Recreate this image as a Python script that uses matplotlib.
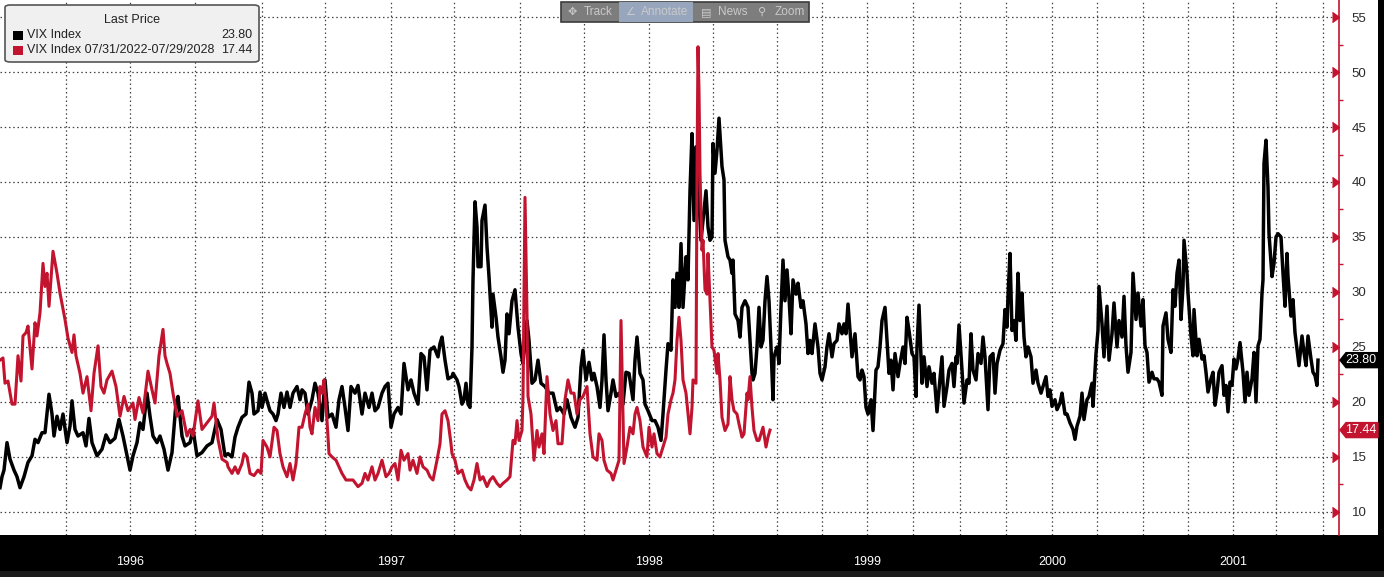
import matplotlib
matplotlib.use('Agg')
import matplotlib.pyplot as plt
import numpy as np
from matplotlib.patches import FancyBboxPatch, Rectangle, Polygon
from matplotlib.ticker import MultipleLocator

# Positions run along the chart's observation axis (uneven in calendar time,
# the overlap period carries both series' dates); values are VIX levels.
black_pos = [0, 2, 4, 7, 10, 14, 17, 20, 24, 28, 32, 35, 38, 42, 45, 49, 52, 54, 57, 60, 63, 67, 70, 72, 75, 78,
             83, 86, 89, 92, 97, 102, 106, 110, 115, 119, 123, 127, 130, 133, 137, 140, 143, 147, 150, 153, 157,
             160, 164, 168, 172, 176, 178, 182, 185, 190, 193, 197, 202, 207, 212, 217, 221, 225, 228, 232, 235,
             238, 242, 246, 249, 252, 254, 258, 260, 262, 265, 268, 270, 273, 276, 278, 281, 284, 287, 290, 293,
             297, 300, 302, 305, 308, 312, 315, 318, 322, 325, 328, 332, 336, 339, 342, 345, 348, 351, 355, 358,
             362, 365, 369, 372, 375, 378, 382, 385, 388, 391, 394, 398, 401, 404, 408, 411, 414, 418, 421, 424,
             427, 430, 434, 438, 440, 442, 445, 448, 452, 453, 457, 459, 462, 464, 466, 468, 470, 472, 473, 475,
             477, 478, 481, 482, 485, 487, 489, 492, 493, 496, 498, 501, 503, 505, 507, 509, 512, 515, 518, 521,
             523, 527, 529, 532, 535, 538, 541, 545, 549, 553, 557, 560, 564, 567, 571, 575, 578, 581, 583, 586,
             589, 592, 594, 597, 600, 602, 604, 606, 608, 611, 613, 616, 619, 623, 626, 629, 633, 635, 637, 640,
             643, 645, 648, 652, 655, 658, 661, 663, 666, 668, 671, 673, 675, 677, 679, 681, 683, 686, 688, 690,
             692, 694, 696, 698, 701, 703, 706, 708, 710, 712, 713, 715, 717, 719, 722, 724, 725, 728, 730, 732,
             733, 735, 738, 740, 742, 745, 748, 750, 752, 753, 755, 757, 759, 761, 763, 765, 767, 769, 771, 773,
             774, 777, 779, 781, 783, 785, 787, 789, 791, 793, 796, 798, 801, 803, 806, 808, 810, 812, 815, 818,
             820, 822, 825, 827, 829, 832, 834, 837, 839, 842, 844, 846, 848, 850, 852, 855, 858, 860, 862, 864,
             866, 868, 871, 873, 876, 878, 880, 882, 885, 887, 889, 891, 893, 895, 898, 900, 903, 905, 907, 909,
             912, 914, 916, 917, 919, 922, 924, 927, 929, 932, 934, 937, 939, 942, 944, 947, 949, 952, 954, 956,
             957, 959, 962, 964, 967, 969, 971, 973, 976, 978, 981, 983, 985, 988, 990, 993, 995, 997, 1000,
             1003, 1005, 1007, 1008, 1010, 1012, 1014, 1016, 1018, 1020, 1022, 1024, 1026, 1028, 1031, 1033,
             1036, 1038, 1041, 1043, 1046, 1048, 1050, 1052, 1055, 1057, 1060, 1062, 1065, 1067, 1070, 1073,
             1075, 1077, 1080, 1082, 1084, 1087, 1089, 1092, 1093, 1096, 1098, 1099, 1102, 1104, 1107, 1109,
             1112, 1114, 1117, 1119, 1122, 1124, 1126, 1128, 1131, 1133, 1136, 1138, 1141, 1143, 1145, 1147,
             1149, 1152, 1154, 1157, 1159, 1162, 1163, 1166, 1168, 1171, 1173, 1175, 1177, 1179, 1181, 1183,
             1184, 1187, 1188, 1191, 1193, 1194, 1197, 1199, 1202, 1204, 1206, 1208, 1211, 1213, 1215, 1217,
             1219, 1222, 1224, 1226, 1228, 1230, 1232, 1234, 1236, 1238, 1240, 1243, 1245, 1247, 1249, 1252,
             1254, 1256, 1258, 1260, 1262, 1263, 1264, 1266, 1268, 1269, 1272, 1274, 1276, 1278, 1281, 1283,
             1285, 1287, 1288, 1291, 1293, 1295, 1297, 1299, 1302, 1304, 1306, 1308, 1311, 1313, 1315, 1317, 1318]
black_vix = [12.2, 13.2, 13.8, 16.3, 14.8, 13.8, 13.2, 12.2, 13.2, 14.5, 15.1, 16.6, 16.3, 17.2, 17.2, 20.7, 18.9,
             16.9, 18.7, 17.5, 18.9, 16.3, 17.8, 20.1, 17.5, 16.9, 17.2, 16.0, 18.5, 16.3, 15.1, 15.7, 17.0, 16.3,
             16.7, 18.4, 16.9, 15.1, 13.8, 15.1, 16.3, 18.1, 17.5, 20.8, 18.7, 16.9, 16.3, 16.9, 15.7, 13.8, 15.4,
             19.9, 20.5, 16.9, 16.0, 16.3, 17.5, 15.1, 15.4, 16.0, 16.3, 18.4, 17.5, 15.1, 15.3, 15.0, 16.8, 17.7,
             18.6, 18.9, 21.8, 20.8, 18.9, 19.2, 20.9, 19.5, 20.8, 19.8, 19.2, 18.9, 18.3, 18.9, 20.8, 19.5, 20.9,
             19.5, 20.8, 21.4, 20.2, 21.1, 20.8, 18.9, 20.2, 21.7, 20.8, 18.3, 22.0, 18.6, 18.9, 17.7, 20.2, 21.4,
             19.5, 17.4, 21.4, 20.8, 21.5, 18.9, 20.8, 19.5, 20.8, 19.2, 19.5, 20.8, 21.4, 21.7, 17.7, 18.9, 19.5,
             18.9, 23.5, 21.1, 22.0, 20.8, 19.8, 24.4, 24.1, 21.1, 24.7, 25.0, 24.1, 25.3, 25.9, 23.8, 22.1, 22.3,
             22.6, 22.0, 21.4, 19.8, 20.2, 21.7, 19.8, 19.5, 25.0, 31.1, 38.2, 35.9, 32.3, 32.3, 36.5, 37.9, 34.1,
             31.4, 26.8, 29.8, 27.7, 25.9, 24.1, 22.7, 23.8, 28.0, 26.2, 29.2, 30.2, 26.8, 24.4, 23.5, 27.4, 25.6,
             21.7, 22.0, 23.8, 21.7, 21.4, 20.8, 20.8, 19.2, 19.5, 18.9, 20.2, 18.6, 17.7, 18.6, 23.2, 24.7, 22.0,
             23.6, 22.0, 22.6, 21.4, 19.5, 22.0, 26.1, 22.0, 19.2, 20.8, 22.0, 20.5, 20.8, 19.8, 22.7, 22.6, 20.2,
             23.8, 25.9, 22.6, 22.0, 19.8, 19.2, 18.3, 18.3, 17.7, 16.5, 18.9, 22.9, 25.3, 24.7, 31.1, 28.6, 31.7,
             28.6, 34.4, 28.6, 33.2, 31.1, 39.2, 44.4, 36.5, 43.2, 40.2, 34.7, 36.5, 39.2, 35.9, 34.7, 35.0, 43.5,
             40.8, 42.9, 45.8, 41.4, 40.2, 34.7, 33.2, 32.9, 31.7, 32.9, 28.0, 27.4, 25.9, 28.6, 29.2, 28.6, 25.6,
             22.6, 22.0, 22.6, 25.0, 28.6, 25.0, 25.6, 29.2, 31.4, 29.2, 25.0, 20.2, 24.1, 25.0, 23.5, 28.6, 32.9,
             29.2, 32.0, 29.5, 26.2, 31.1, 29.8, 30.8, 28.6, 29.2, 27.1, 24.4, 25.6, 24.4, 27.1, 25.0, 22.6, 22.0,
             23.2, 25.0, 26.2, 24.1, 25.3, 25.6, 27.1, 26.2, 27.1, 26.2, 28.9, 26.5, 24.1, 26.2, 22.3, 22.0, 22.9,
             22.3, 19.5, 18.9, 20.2, 17.4, 22.9, 23.2, 25.0, 27.4, 28.6, 25.6, 22.6, 23.8, 21.1, 24.4, 22.3, 23.5,
             25.0, 23.5, 27.7, 26.5, 24.4, 24.1, 20.5, 25.0, 28.8, 21.7, 24.1, 21.4, 23.2, 21.7, 22.6, 19.1, 21.1,
             24.1, 19.6, 21.4, 22.9, 23.5, 21.4, 24.1, 23.5, 27.0, 22.9, 19.9, 22.0, 21.7, 26.2, 22.9, 22.0, 24.4,
             23.5, 25.9, 24.1, 19.3, 24.1, 24.4, 20.8, 23.5, 24.7, 25.3, 28.4, 26.8, 29.6, 33.5, 26.5, 27.4, 25.6,
             31.7, 27.4, 29.9, 25.9, 24.1, 25.0, 24.1, 21.7, 22.9, 21.7, 20.8, 21.4, 22.3, 20.5, 21.1, 19.6, 20.2,
             19.3, 19.9, 20.8, 18.9, 18.9, 18.1, 17.5, 16.6, 17.8, 18.7, 20.8, 18.4, 20.2, 20.5, 21.7, 19.6, 24.4,
             26.5, 30.5, 27.1, 24.1, 28.7, 23.8, 26.2, 29.0, 25.0, 27.4, 25.9, 29.6, 25.1, 22.7, 24.5, 31.7, 27.5,
             29.9, 26.9, 29.3, 25.1, 24.5, 21.8, 22.7, 22.1, 22.1, 21.8, 20.6, 26.9, 28.1, 25.7, 24.5, 30.2, 28.7,
             31.7, 32.9, 27.5, 30.5, 34.7, 31.7, 29.9, 26.0, 24.2, 28.4, 24.2, 25.7, 23.9, 24.2, 22.7, 20.9, 22.1,
             22.7, 19.7, 20.9, 22.7, 23.3, 20.6, 21.5, 19.1, 21.8, 21.5, 23.9, 23.0, 23.9, 25.4, 22.7, 20.0, 22.7,
             20.6, 22.1, 24.5, 20.0, 25.1, 25.7, 29.9, 31.1, 41.7, 43.8, 39.5, 35.3, 31.4, 32.6, 35.0, 35.3, 35.0,
             31.7, 28.7, 33.5, 31.4, 27.8, 29.3, 26.3, 24.8, 23.3, 26.0, 24.5, 23.3, 26.0, 23.9, 22.7, 22.4, 21.5, 23.8]

red_pos = [0, 3, 5, 8, 12, 15, 18, 21, 23, 26, 28, 32, 35, 37, 40, 43, 45, 47, 49, 53, 57, 60, 65, 68, 72, 74, 76,
           80, 83, 87, 91, 94, 98, 101, 104, 107, 112, 116, 120, 124, 128, 133, 135, 139, 143, 148, 152, 155, 159,
           163, 165, 167, 170, 173, 177, 182, 187, 190, 193, 198, 202, 207, 212, 214, 218, 222, 227, 228, 232, 235,
           238, 242, 244, 247, 250, 254, 258, 261, 263, 267, 270, 274, 277, 280, 283, 287, 290, 293, 296, 299, 302,
           305, 308, 310, 312, 315, 318, 320, 322, 324, 327, 329, 332, 336, 339, 342, 346, 350, 353, 358, 362, 365,
           368, 372, 375, 378, 382, 386, 389, 392, 395, 398, 401, 404, 408, 410, 413, 417, 420, 423, 427, 430, 433,
           437, 440, 442, 445, 448, 451, 452, 455, 458, 462, 465, 468, 471, 474, 477, 480, 483, 487, 490, 493, 497,
           500, 503, 507, 510, 513, 515, 517, 519, 522, 523, 525, 527, 528, 531, 534, 537, 539, 542, 544, 547, 550,
           553, 556, 558, 562, 565, 568, 571, 574, 577, 580, 583, 587, 590, 593, 597, 599, 602, 604, 607, 611, 613,
           617, 619, 621, 623, 624, 627, 630, 633, 635, 637, 640, 643, 647, 649, 652, 654, 657, 660, 663, 666, 668,
           671, 673, 675, 677, 679, 681, 683, 686, 688, 690, 692, 693, 696, 697, 698, 699, 700, 702, 703, 705, 707,
           708, 710, 712, 714, 717, 718, 720, 722, 725, 728, 730, 732, 734, 737, 739, 742, 744, 747, 748, 750, 752,
           754, 757, 759, 761, 763, 766, 768, 770]
red_vix = [23.8, 24.0, 21.7, 21.9, 19.8, 19.8, 24.2, 21.9, 26.0, 26.3, 26.9, 23.0, 27.2, 26.0, 28.1, 32.6, 30.5,
           31.7, 28.7, 33.7, 31.7, 29.9, 27.5, 25.8, 24.5, 26.1, 24.2, 22.6, 20.8, 22.3, 19.2, 22.6, 25.1, 21.4,
           20.8, 22.0, 22.8, 21.4, 18.7, 20.5, 19.2, 19.9, 18.4, 20.4, 19.0, 22.8, 21.1, 19.9, 24.2, 26.6, 24.2,
           23.5, 22.6, 20.8, 18.7, 19.2, 16.9, 17.5, 16.9, 20.1, 17.5, 18.1, 18.7, 19.9, 16.6, 14.8, 14.5, 14.1,
           13.5, 14.1, 13.5, 14.4, 15.3, 15.0, 13.5, 13.3, 13.8, 13.5, 16.5, 15.9, 15.0, 17.7, 17.4, 15.3, 14.1,
           13.2, 14.4, 12.9, 14.4, 17.7, 17.7, 18.9, 19.8, 17.7, 17.1, 19.5, 18.3, 21.4, 20.8, 22.0, 18.3, 15.3,
           15.0, 14.7, 14.1, 13.5, 12.9, 12.9, 12.9, 12.3, 12.6, 13.5, 12.9, 14.1, 12.9, 13.5, 14.7, 13.2, 13.5,
           14.1, 14.4, 12.9, 15.6, 14.7, 15.3, 13.8, 14.7, 13.5, 15.0, 14.1, 13.8, 13.2, 12.9, 14.7, 16.2, 18.9,
           19.2, 18.3, 16.2, 15.3, 14.7, 13.5, 13.8, 12.9, 12.3, 12.0, 12.9, 14.4, 12.9, 13.2, 12.3, 12.9, 13.2,
           12.6, 12.3, 12.6, 12.9, 13.2, 16.5, 16.2, 18.3, 16.5, 17.4, 20.5, 38.6, 28.0, 20.5, 18.9, 14.7, 17.4,
           15.9, 17.1, 15.3, 22.3, 18.9, 17.4, 18.3, 16.2, 16.2, 20.2, 22.0, 20.8, 20.8, 18.9, 20.2, 20.5, 21.4,
           17.1, 15.0, 14.7, 17.1, 16.5, 14.7, 13.8, 13.5, 12.9, 14.1, 14.7, 27.4, 18.9, 14.4, 15.9, 17.7, 17.1,
           18.9, 19.5, 18.3, 15.9, 15.0, 17.7, 15.9, 17.1, 15.3, 15.0, 15.9, 16.8, 18.9, 20.2, 20.8, 22.0, 25.6,
           27.7, 25.6, 22.0, 20.8, 18.9, 17.1, 19.5, 22.0, 21.7, 40.8, 52.3, 48.3, 40.8, 33.8, 34.7, 30.2, 29.8,
           33.5, 29.2, 25.0, 24.7, 22.6, 24.4, 22.0, 18.6, 17.4, 18.0, 22.3, 20.2, 19.2, 18.9, 18.0, 16.8, 17.1,
           20.8, 20.2, 22.3, 19.5, 17.4, 16.5, 16.5, 17.1, 17.7, 15.9, 16.8, 17.44]

quarter_pos = [65.6, 130, 195, 261.6, 325, 390.6, 454, 520, 584, 649, 713, 777, 822, 867, 913, 960,
               1006, 1052, 1097, 1143, 1188, 1233, 1276, 1323]
year_pos = [130, 390.6, 649, 867, 1052, 1233]
year_labels = ['1996', '1997', '1998', '1999', '2000', '2001']
y_ticks = [10, 15, 20, 25, 30, 35, 40, 45, 50, 55]

black_label = 'VIX Index'
red_label = 'VIX Index 07/31/2022-07/29/2028'
black_last = 23.80
red_last = 17.44

RED = '#c2132f'
FONT = ['Liberation Sans', 'DejaVu Sans']
W, H = 1384, 577

def fx(px):
    return px / W

def fy(py):
    return 1 - py / H

fig = plt.figure(figsize=(W / 100, H / 100), dpi=100, facecolor='black')

# white panel (plot + right axis area), kept behind the axes
fig.patches.append(Rectangle((0, fy(535)), fx(1378), 535 / H, transform=fig.transFigure,
                             facecolor='white', edgecolor='none', zorder=-10))
# slightly lighter strip along the very bottom
fig.patches.append(Rectangle((0, 0), 1, 6 / H, transform=fig.transFigure,
                             facecolor='#1b1b1b', edgecolor='none', zorder=-10))

ax = fig.add_axes([0, fy(535), fx(1339), 535 / H])
ax.set_facecolor('white')
ax.set_xlim(0, 1339)
ax.set_ylim(7.9, 56.55)

ax.plot(black_pos, black_vix, color='black', lw=2.5, solid_joinstyle='round', zorder=3)
ax.plot(red_pos, red_vix, color=RED, lw=2.2, solid_joinstyle='round', zorder=4)

# quarterly grid, year labels in between on the black band
ax.xaxis.remove_overlapping_locs = False
ax.set_xticks(quarter_pos)
ax.set_xticklabels([])
ax.set_xticks(year_pos, minor=True)
ax.set_xticklabels(year_labels, minor=True)
ax.tick_params(axis='x', which='major', length=0)
ax.tick_params(axis='x', which='minor', length=0, pad=15, labelcolor='white', labelsize=9)
for lab in ax.get_xticklabels(minor=True):
    lab.set_family(['Liberation Sans Narrow', 'Liberation Sans', 'DejaVu Sans'])

ax.yaxis.tick_right()
ax.set_yticks(y_ticks)
ax.yaxis.set_minor_locator(MultipleLocator(2.5))
ax.tick_params(axis='y', which='major', length=0, pad=9, labelsize=9.5, labelcolor='#2b2b2b')
ax.tick_params(axis='y', which='minor', length=3, width=1, color=RED, direction='out')
for lab in ax.get_yticklabels():
    lab.set_family(FONT)

ax.grid(True, which='major', color='#444444', linestyle=(0, (1.2, 2.2)), linewidth=0.9)
ax.set_axisbelow(True)

for side in ['top', 'left', 'bottom']:
    ax.spines[side].set_visible(False)
ax.spines['right'].set_color(RED)
ax.spines['right'].set_linewidth(1.2)

# red triangle tick markers on the right axis
ax.plot(np.ones(len(y_ticks)), y_ticks, transform=ax.get_yaxis_transform(), ls='none',
        marker=5, ms=7, color=RED, clip_on=False, zorder=5)


# last-price tags
def price_tag(value, color, text):
    yd = ax.transData.transform((0, value))[1]
    x0 = ax.transAxes.transform((1, 0))[0]
    pts = [(x0 + 1, yd), (x0 + 7, yd + 7.5), (x0 + 39, yd + 7.5), (x0 + 39, yd - 7.5), (x0 + 7, yd - 7.5)]
    pts = fig.transFigure.inverted().transform(pts)
    fig.patches.append(Polygon(pts, closed=True, transform=fig.transFigure,
                               facecolor=color, edgecolor=color, zorder=6))
    cx, cy = fig.transFigure.inverted().transform((x0 + 22, yd))
    fig.text(cx, cy, text, color='white', fontsize=9, ha='center', va='center', family=FONT, zorder=7)


price_tag(black_last, 'black', f'{black_last:.2f}')
price_tag(red_last, RED, f'{red_last:.2f}')

# legend box
fig.patches.append(FancyBboxPatch((fx(5), fy(62)), fx(254), 57 / H, boxstyle='round,pad=0,rounding_size=0.004',
                                  transform=fig.transFigure, facecolor='#f0f0f0', edgecolor='#555555',
                                  linewidth=1.2, zorder=8))
fig.text(fx(132), fy(20), 'Last Price', fontsize=9, ha='center', va='center', color='#222222',
         family=FONT, zorder=9)
for row_y, col, lab, val in [(35, 'black', black_label, black_last), (50, RED, red_label, red_last)]:
    fig.patches.append(Rectangle((fx(13), fy(row_y + 4.5)), fx(10), 9 / H, transform=fig.transFigure,
                                 facecolor=col, edgecolor='none', zorder=9))
    fig.text(fx(27), fy(row_y), lab, fontsize=9, ha='left', va='center', color='#222222',
             family=FONT, zorder=9)
    fig.text(fx(252), fy(row_y), f'{val:.2f}', fontsize=9, ha='right', va='center', color='#222222',
             family=FONT, zorder=9)

# toolbar
fig.patches.append(Rectangle((fx(561), fy(22)), fx(248), 20 / H, transform=fig.transFigure,
                             facecolor='#7d7d7d', edgecolor='#3c3c3c', linewidth=1.2, zorder=8))
fig.patches.append(Rectangle((fx(619), fy(21.5)), fx(74), 19 / H, transform=fig.transFigure,
                             facecolor='#97a6bd', edgecolor='none', zorder=9))
for ix, icon, tx, label in [(572, '\u2725', 584, 'Track'), (630, '\u2220', 641, 'Annotate'),
                            (706, '\u25a4', 718, 'News'), (762, '\u26b2', 775, 'Zoom')]:
    fig.text(fx(ix), fy(12), icon, fontsize=8, ha='center', va='center', color='#c9c9c9',
             family=['DejaVu Sans'], zorder=10)
    fig.text(fx(tx), fy(12), label, fontsize=8.5, ha='left', va='center', color='#c9c9c9',
             family=FONT, zorder=10)

fig.savefig('out.png', dpi=100, facecolor='black')
